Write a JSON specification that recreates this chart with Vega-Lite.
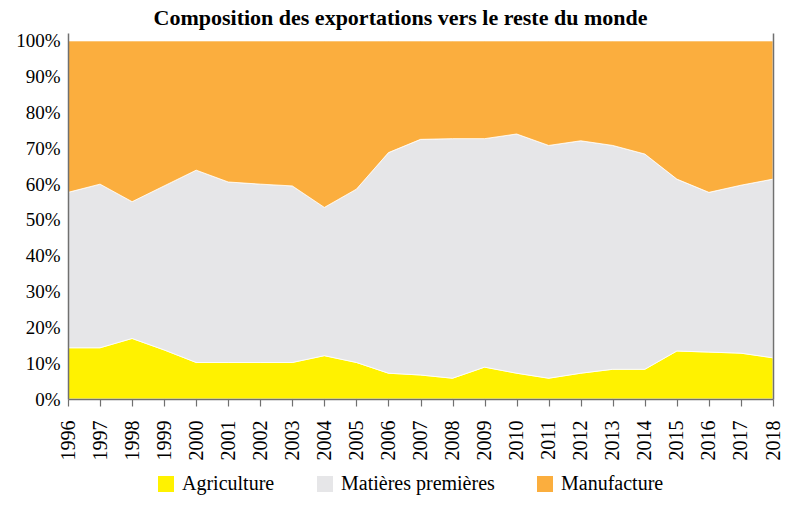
{
  "$schema": "https://vega.github.io/schema/vega-lite/v6.json",
  "autosize": "none",
  "width": 705,
  "height": 366,
  "padding": {"left": 68, "top": 33, "right": 27, "bottom": 114},
  "background": "white",
  "title": {
    "text": "Composition des exportations vers le reste du monde",
    "font": "Liberation Serif",
    "fontSize": 22,
    "fontWeight": "bold",
    "color": "black",
    "anchor": "middle",
    "dx": -20,
    "offset": 2
  },
  "data": {
    "values": [
      {"year": 1996, "sector": "Agriculture", "share": 14.3},
      {"year": 1996, "sector": "Matières premières", "share": 43.4},
      {"year": 1996, "sector": "Manufacture", "share": 42.3},
      {"year": 1997, "sector": "Agriculture", "share": 14.3},
      {"year": 1997, "sector": "Matières premières", "share": 45.7},
      {"year": 1997, "sector": "Manufacture", "share": 40.0},
      {"year": 1998, "sector": "Agriculture", "share": 16.9},
      {"year": 1998, "sector": "Matières premières", "share": 38.2},
      {"year": 1998, "sector": "Manufacture", "share": 44.9},
      {"year": 1999, "sector": "Agriculture", "share": 13.7},
      {"year": 1999, "sector": "Matières premières", "share": 45.8},
      {"year": 1999, "sector": "Manufacture", "share": 40.5},
      {"year": 2000, "sector": "Agriculture", "share": 10.2},
      {"year": 2000, "sector": "Matières premières", "share": 53.7},
      {"year": 2000, "sector": "Manufacture", "share": 36.1},
      {"year": 2001, "sector": "Agriculture", "share": 10.2},
      {"year": 2001, "sector": "Matières premières", "share": 50.4},
      {"year": 2001, "sector": "Manufacture", "share": 39.4},
      {"year": 2002, "sector": "Agriculture", "share": 10.2},
      {"year": 2002, "sector": "Matières premières", "share": 49.8},
      {"year": 2002, "sector": "Manufacture", "share": 40.0},
      {"year": 2003, "sector": "Agriculture", "share": 10.2},
      {"year": 2003, "sector": "Matières premières", "share": 49.3},
      {"year": 2003, "sector": "Manufacture", "share": 40.5},
      {"year": 2004, "sector": "Agriculture", "share": 12.1},
      {"year": 2004, "sector": "Matières premières", "share": 41.4},
      {"year": 2004, "sector": "Manufacture", "share": 46.5},
      {"year": 2005, "sector": "Agriculture", "share": 10.2},
      {"year": 2005, "sector": "Matières premières", "share": 48.4},
      {"year": 2005, "sector": "Manufacture", "share": 41.4},
      {"year": 2006, "sector": "Agriculture", "share": 7.2},
      {"year": 2006, "sector": "Matières premières", "share": 61.6},
      {"year": 2006, "sector": "Manufacture", "share": 31.2},
      {"year": 2007, "sector": "Agriculture", "share": 6.7},
      {"year": 2007, "sector": "Matières premières", "share": 65.8},
      {"year": 2007, "sector": "Manufacture", "share": 27.5},
      {"year": 2008, "sector": "Agriculture", "share": 5.8},
      {"year": 2008, "sector": "Matières premières", "share": 66.9},
      {"year": 2008, "sector": "Manufacture", "share": 27.3},
      {"year": 2009, "sector": "Agriculture", "share": 8.9},
      {"year": 2009, "sector": "Matières premières", "share": 63.8},
      {"year": 2009, "sector": "Manufacture", "share": 27.3},
      {"year": 2010, "sector": "Agriculture", "share": 7.2},
      {"year": 2010, "sector": "Matières premières", "share": 66.8},
      {"year": 2010, "sector": "Manufacture", "share": 26.0},
      {"year": 2011, "sector": "Agriculture", "share": 5.8},
      {"year": 2011, "sector": "Matières premières", "share": 65.0},
      {"year": 2011, "sector": "Manufacture", "share": 29.2},
      {"year": 2012, "sector": "Agriculture", "share": 7.2},
      {"year": 2012, "sector": "Matières premières", "share": 64.9},
      {"year": 2012, "sector": "Manufacture", "share": 27.9},
      {"year": 2013, "sector": "Agriculture", "share": 8.3},
      {"year": 2013, "sector": "Matières premières", "share": 62.5},
      {"year": 2013, "sector": "Manufacture", "share": 29.2},
      {"year": 2014, "sector": "Agriculture", "share": 8.3},
      {"year": 2014, "sector": "Matières premières", "share": 60.1},
      {"year": 2014, "sector": "Manufacture", "share": 31.6},
      {"year": 2015, "sector": "Agriculture", "share": 13.4},
      {"year": 2015, "sector": "Matières premières", "share": 48.0},
      {"year": 2015, "sector": "Manufacture", "share": 38.6},
      {"year": 2016, "sector": "Agriculture", "share": 13.1},
      {"year": 2016, "sector": "Matières premières", "share": 44.6},
      {"year": 2016, "sector": "Manufacture", "share": 42.3},
      {"year": 2017, "sector": "Agriculture", "share": 12.8},
      {"year": 2017, "sector": "Matières premières", "share": 46.9},
      {"year": 2017, "sector": "Manufacture", "share": 40.3},
      {"year": 2018, "sector": "Agriculture", "share": 11.5},
      {"year": 2018, "sector": "Matières premières", "share": 49.9},
      {"year": 2018, "sector": "Manufacture", "share": 38.6}
    ]
  },
  "transform": [
    {"calculate": "indexof(['Agriculture','Matières premières','Manufacture'], datum.sector)", "as": "stackOrder"}
  ],
  "encoding": {
    "x": {
      "field": "year",
      "type": "quantitative",
      "scale": {"domain": [1996, 2018], "nice": false, "zero": false},
      "axis": {
        "values": [1996,1997,1998,1999,2000,2001,2002,2003,2004,2005,2006,2007,2008,2009,2010,2011,2012,2013,2014,2015,2016,2017,2018],
        "format": "d",
        "labelAngle": -90,
        "labelFont": "Liberation Serif",
        "labelFontSize": 20,
        "labelColor": "black",
        "labelPadding": 14,
        "labelFlush": false,
        "labelOverlap": false,
        "labelBound": false,
        "tickSize": 7,
        "tickColor": "#707070",
        "tickWidth": 1.2,
        "domainColor": "#707070",
        "domainWidth": 1.5,
        "grid": false,
        "title": null,
        "zindex": 1
      }
    }
  },
  "layer": [
    {
      "mark": {"type": "area", "stroke": "white", "strokeWidth": 0.8, "interpolate": "linear"},
      "encoding": {
        "y": {
          "field": "share",
          "type": "quantitative",
          "stack": "normalize",
          "scale": {"domain": [0, 1.022], "nice": false},
          "axis": {
            "values": [0, 0.1, 0.2, 0.3, 0.4, 0.5, 0.6, 0.7, 0.8, 0.9, 1.0],
            "format": ".0%",
            "labelFont": "Liberation Serif",
            "labelFontSize": 19,
            "labelColor": "black",
            "labelPadding": 8,
            "labelFlush": false,
            "labelOverlap": false,
            "ticks": false,
            "domainColor": "#707070",
            "domainWidth": 1.5,
            "grid": false,
            "title": null,
            "zindex": 1
          }
        },
        "color": {
          "field": "sector",
          "type": "nominal",
          "scale": {
            "domain": ["Agriculture", "Matières premières", "Manufacture"],
            "range": ["#FFF200", "#E6E6E8", "#FBAE3E"]
          },
          "legend": {
            "title": null,
            "orient": "none",
            "legendX": 88,
            "legendY": 441,
            "direction": "horizontal",
            "symbolType": "square",
            "symbolSize": 256,
            "symbolStrokeWidth": 0,
            "symbolOpacity": 1,
            "labelFont": "Liberation Serif",
            "labelFontSize": 20,
            "labelColor": "black",
            "labelOffset": 6,
            "columnPadding": 40,
            "padding": 0
          }
        },
        "order": {"field": "stackOrder", "type": "quantitative"}
      }
    },
    {
      "mark": {"type": "area", "opacity": 0},
      "encoding": {
        "y": {
          "field": "share",
          "type": "quantitative",
          "stack": "normalize",
          "axis": {
            "orient": "right",
            "labels": false,
            "ticks": false,
            "domainColor": "#707070",
            "domainWidth": 1.5,
            "grid": false,
            "title": null,
            "zindex": 1
          }
        }
      }
    }
  ],
  "resolve": {"axis": {"y": "independent"}},
  "config": {
    "view": {"stroke": null}
  }
}
